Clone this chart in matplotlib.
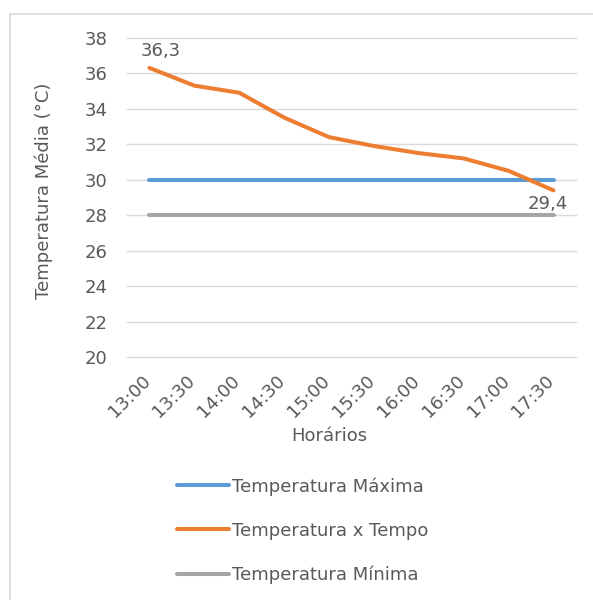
import matplotlib
matplotlib.use("Agg")
import matplotlib.pyplot as plt
import matplotlib.transforms as mtransforms
from matplotlib.lines import Line2D

# Data
horarios = ["13:00", "13:30", "14:00", "14:30", "15:00",
            "15:30", "16:00", "16:30", "17:00", "17:30"]
temp_tempo = [36.3, 35.3, 34.9, 33.5, 32.4, 31.9, 31.5, 31.2, 30.5, 29.4]
temp_maxima = [30] * len(horarios)
temp_minima = [28] * len(horarios)
yticks = [20, 22, 24, 26, 28, 30, 32, 34, 36, 38]

TXT = "#595959"
plt.rcParams["font.family"] = ["DejaVu Sans"]
FS = 13

fig = plt.figure(figsize=(5.93, 6.0), dpi=100)
fig.patch.set_facecolor("white")

# chart-area border (top and left edges)
fig.add_artist(Line2D([10 / 593, 1.0], [1 - 14 / 600] * 2, color="#D9D9D9", lw=1.2,
                      transform=fig.transFigure))
fig.add_artist(Line2D([10 / 593] * 2, [0.0, 1 - 14 / 600], color="#D9D9D9", lw=1.2,
                      transform=fig.transFigure))

ax = fig.add_axes([127 / 593, 1 - 357.3 / 600, (576 - 127) / 593, (357.3 - 37.7) / 600])
x = list(range(len(horarios)))

l1, = ax.plot(x, temp_maxima, color="#5B9BD5", lw=2.9, solid_capstyle="round",
              label="Temperatura Máxima", zorder=3)
l2, = ax.plot(x, temp_tempo, color="#ED7D31", lw=2.9, solid_capstyle="round",
              solid_joinstyle="round", label="Temperatura x Tempo", zorder=4)
l3, = ax.plot(x, temp_minima, color="#A5A5A5", lw=2.9, solid_capstyle="round",
              label="Temperatura Mínima", zorder=3)

ax.set_xlim(-0.5, len(horarios) - 0.5)
ax.set_ylim(20, 38)
ax.set_yticks(yticks)
ax.set_yticklabels([str(v) for v in yticks])
ax.set_xticks(x)
ax.set_xticklabels(horarios, rotation=45, ha="right", va="center",
                   rotation_mode="anchor")
ax.tick_params(axis="both", length=0, labelsize=FS, labelcolor=TXT)
ax.tick_params(axis="y", pad=14)
ax.tick_params(axis="x", pad=15)
shift = mtransforms.ScaledTranslation(-2 / 100, 0, fig.dpi_scale_trans)
for lbl in ax.get_xticklabels():
    lbl.set_transform(lbl.get_transform() + shift)
ax.grid(axis="y", color="#D9D9D9", lw=1.0)
for gl in ax.get_ygridlines():
    gl.set_clip_on(False)
ax.set_axisbelow(True)
for s in ax.spines.values():
    s.set_visible(False)

# value labels at the first and last point
fmt = lambda v: f"{v:.1f}".replace(".", ",")
ax.annotate(fmt(temp_tempo[0]), (x[0], temp_tempo[0]), xytext=(11, 17),
            textcoords="offset pixels", ha="center", va="center",
            fontsize=FS, color=TXT)
ax.annotate(fmt(temp_tempo[-1]), (x[-1], temp_tempo[-1]), xytext=(-6, -14),
            textcoords="offset pixels", ha="center", va="center",
            fontsize=FS, color=TXT)

fig.text(44 / 593, 1 - 191 / 600, "Temperatura Média (°C)", rotation=90,
         ha="center", va="center", fontsize=FS, color=TXT)
fig.text(329 / 593, 1 - 436 / 600, "Horários", ha="center", va="center",
         fontsize=FS, color=TXT)

leg = fig.legend(handles=[l1, l2, l3], loc="upper left",
                 bbox_to_anchor=(177 / 593, 1 - 477 / 600),
                 frameon=False, fontsize=FS, labelcolor=TXT,
                 handlelength=2.9, handletextpad=0.15, labelspacing=1.45,
                 borderaxespad=0, borderpad=0)

fig.savefig("out.png", dpi=100, facecolor="white")
